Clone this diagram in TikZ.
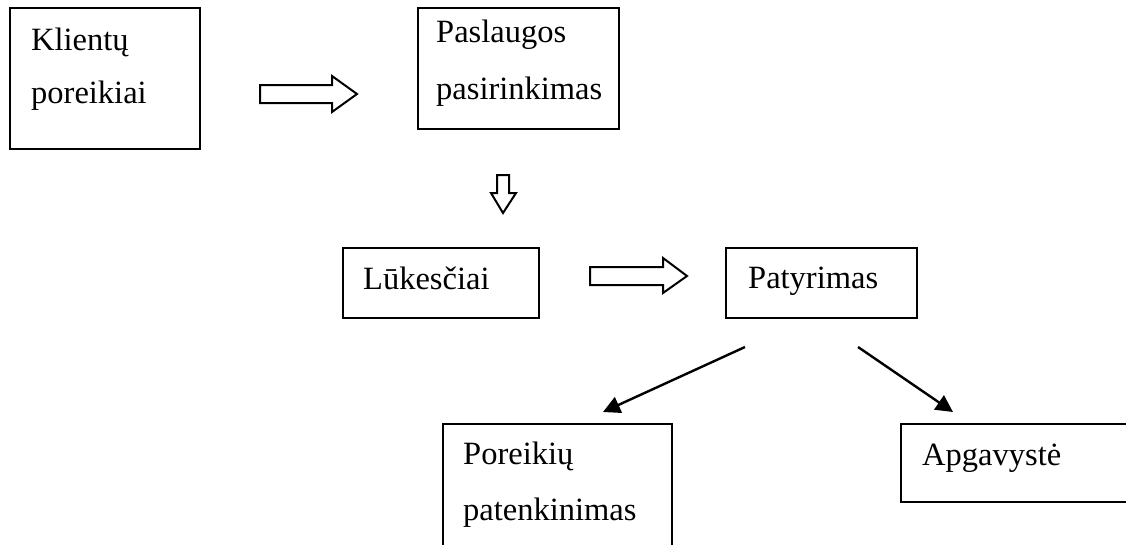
\documentclass[tikz,border=0pt]{standalone}
\usepackage{fontspec}
\setmainfont{Liberation Serif}
\usetikzlibrary{arrows.meta}
\begin{document}
\begin{tikzpicture}[x=1pt,y=-1pt,
  box/.style={draw,line width=1.8pt},
  lbl/.style={anchor=base west,inner sep=0pt,font=\fontsize{32.5}{38}\selectfont},
  blockarrow/.style={draw,line width=2pt,line join=miter,fill=white},
  pointer/.style={line width=2.4pt,-{Triangle[length=17pt,width=17pt]}}]
\useasboundingbox (0,0) rectangle (1126,544);
% boxes
\draw[box] (10,8) rectangle (200,149);
\draw[box] (418,8) rectangle (619,129);
\draw[box] (343,248) rectangle (539,318);
\draw[box] (726,248) rectangle (917,318);
\draw[box] (443,424) rectangle (672,560);
\draw[box] (901,424) rectangle (1140,502);
% labels
\node[lbl] (t1a) at (31,50) {Klientų};
\node[lbl] (t1b) at (31,103) {poreikiai};
\node[lbl] (t2a) at (436,42) {Paslaugos};
\node[lbl] (t2b) at (436,99) {pasirinkimas};
\node[lbl] (t3) at (363,289) {Lūkesčiai};
\node[lbl] (t4) at (748,288) {Patyrimas};
\node[lbl] (t5a) at (463,464) {Poreikių};
\node[lbl] (t5b) at (463,520) {patenkinimas};
\node[lbl] (t6) at (922,465) {Apgavystė};
% block arrows
\draw[blockarrow] (260,85) -- (332,85) -- (332,76) -- (357,94) -- (332,112) -- (332,103) -- (260,103) -- cycle;
\draw[blockarrow] (590,267) -- (663,267) -- (663,258) -- (687,276) -- (663,293) -- (663,285) -- (590,285) -- cycle;
\draw[blockarrow] (497,175) -- (509,175) -- (509,193) -- (516,193) -- (503,213) -- (491,193) -- (497,193) -- cycle;
% pointers
\coordinate (s1) at (745,347);
\coordinate (e1) at (603,412);
\coordinate (s2) at (858,347);
\coordinate (e2) at (953,412);
\draw[pointer] (s1) -- (e1);
\draw[pointer] (s2) -- (e2);
\end{tikzpicture}
\end{document}
